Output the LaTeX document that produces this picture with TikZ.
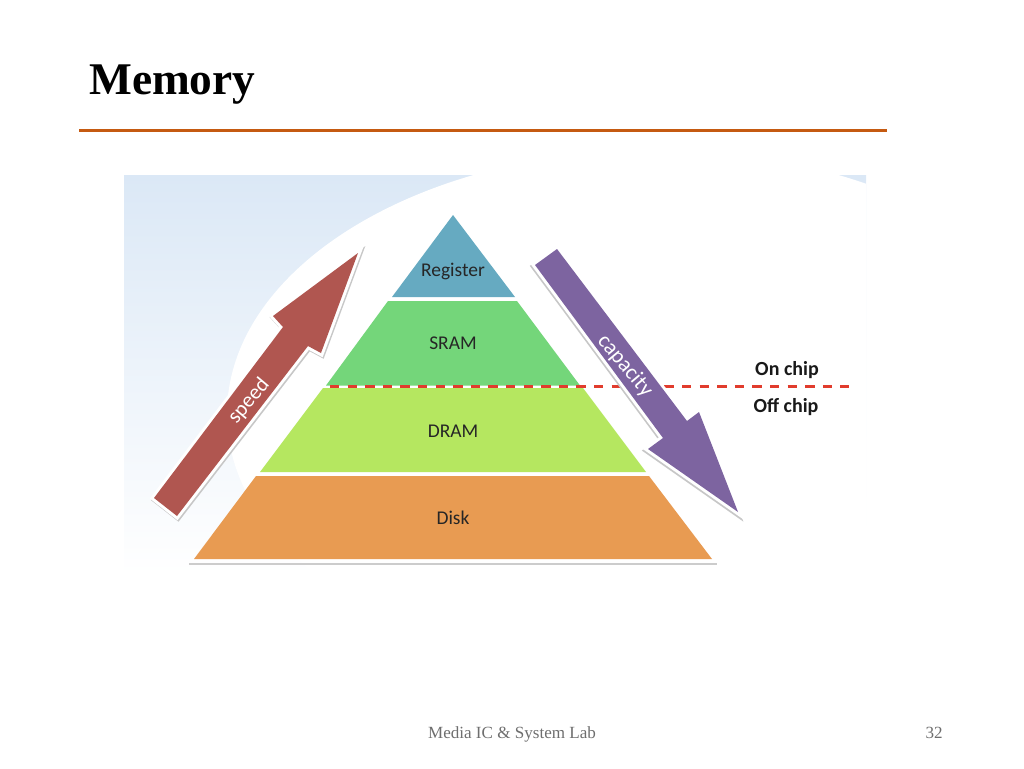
\documentclass[tikz,border=0pt]{standalone}
\usepackage{fontspec}
\setmainfont{Liberation Serif}
\newfontfamily\calibri{Carlito}
\definecolor{titlerule}{RGB}{197,90,17}
\definecolor{bgblue}{RGB}{219,232,246}
\definecolor{regcol}{RGB}{102,170,193}
\definecolor{sramcol}{RGB}{116,214,122}
\definecolor{dramcol}{RGB}{181,231,96}
\definecolor{diskcol}{RGB}{232,155,82}
\definecolor{speedcol}{RGB}{176,86,80}
\definecolor{capcol}{RGB}{125,100,160}
\definecolor{footcol}{RGB}{110,110,110}
\definecolor{chipred}{RGB}{225,60,45}
\newcommand{\speedpath}{(358,253) -- (321,353) -- (308,346) -- (177,516) -- (154,498) -- (283,327) -- (273,316) -- cycle}
\newcommand{\cappath}{(557,249) -- (535,265) -- (663,438) -- (648,449) -- (738,512) -- (699,412) -- (687,421) -- cycle}
\tikzset{
  layer/.style={fill=#1},
  bigarrow/.style={fill=#1},
  arrowedge/.style={draw=white, fill=white, line width=4.5pt, miter limit=6},
  arrowshadow/.style={draw=black!22, fill=black!22, line width=4.5pt, miter limit=6},
  laylabel/.style={font=\calibri\fontsize{14.6}{16}\selectfont, text=black!85},
  arrlabel/.style={font=\calibri\fontsize{#1}{18}\selectfont, text=white},
  chiplabel/.style={font=\calibri\bfseries\fontsize{15}{16}\selectfont, text=black!90}
}

\begin{document}
\begin{tikzpicture}[x=0.75pt, y=-0.75pt]
  \useasboundingbox (0,0) rectangle (1024,768);
  % title and footer
  \node[anchor=base west, inner sep=0pt, font=\bfseries\fontsize{34}{40}\selectfont] (title) at (89,94) {Memory};
  \fill[titlerule] (79,128.5) rectangle (887,131.5);
  \node[anchor=base, inner sep=0pt, text=footcol, font=\fontsize{12.8}{14}\selectfont] (footer) at (512,738) {Media IC \& System Lab};
  \node[anchor=base east, inner sep=0pt, text=footcol, font=\fontsize{12.8}{14}\selectfont] (pagenum) at (943,738) {32};
  % background
  \begin{scope}
    \clip (124,175) rectangle (866,575);
    \shade[top color=bgblue, middle color=bgblue!45, bottom color=white] (124,175) rectangle (866,575);
    \fill[white] (656,414) ellipse (429 and 264);
  \end{scope}
  % pyramid
  \fill[black!20] (189,562.5) rectangle (717,564.5);
  \fill[layer=regcol] (453,215) -- (515,297) -- (392,297) -- cycle;
  \fill[layer=sramcol] (388,301) -- (517,301) -- (580,385.5) -- (326,385.5) -- cycle;
  \fill[layer=dramcol] (323,388) -- (583,388) -- (646,472) -- (260,472) -- cycle;
  \fill[layer=diskcol] (256,476) -- (649,476) -- (712,559) -- (194,559) -- cycle;
  % on/off chip line
  \draw[chipred, line width=1.8pt, dash pattern=on 7pt off 6.2pt] (330,386.5) -- (849,386.5);
  % arrows
  \begin{scope}[shift={(1,1.5)}]
    \path[arrowshadow] \speedpath;
  \end{scope}
  \path[arrowedge] \speedpath;
  \path[bigarrow=speedcol] \speedpath;
  \begin{scope}[shift={(-1,1.5)}]
    \path[arrowshadow] \cappath;
  \end{scope}
  \path[arrowedge] \cappath;
  \path[bigarrow=capcol] \cappath;
  % labels
  \node[laylabel] (register) at (453,271) {Register};
  \node[laylabel] (sram) at (453,343) {SRAM};
  \node[laylabel] (dram) at (453,431) {DRAM};
  \node[laylabel] (disk) at (453,518) {Disk};
  \node[arrlabel=16, rotate=50] (speed) at (249,401) {speed};
  \node[arrlabel=16.5, rotate=-50] (capacity) at (625,366) {capacity};
  \node[chiplabel] (onchip) at (787,370) {On chip};
  \node[chiplabel] (offchip) at (786,407) {Off chip};
\end{tikzpicture}
\end{document}
